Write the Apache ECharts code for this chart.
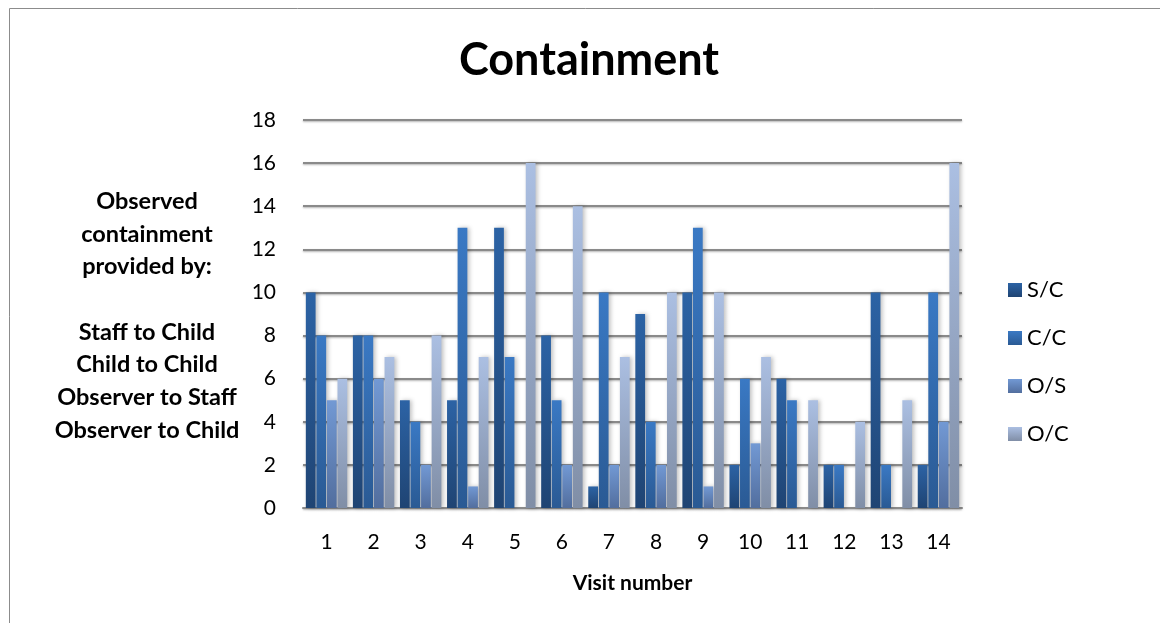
<!DOCTYPE html>
<html>
<head>
    <meta charset="utf-8">
    <title>Containment</title>
    <style>
        html, body { margin: 0; padding: 0; background: #fff; }
        #main { width: 1160px; height: 623px; }
    </style>
</head>
<body>
<div id="main"></div>
<script src="https://cdn.jsdelivr.net/npm/echarts@6/dist/echarts.min.js"></script>
<script type="text/javascript">
    var visits = ['1', '2', '3', '4', '5', '6', '7', '8', '9', '10', '11', '12', '13', '14'];
    var seriesNames = ['S/C', 'C/C', 'O/S', 'O/C'];
    var staffToChild = [10, 8, 5, 5, 13, 8, 1, 9, 10, 2, 6, 2, 10, 2];
    var childToChild = [8, 8, 4, 13, 7, 5, 10, 4, 13, 6, 5, 2, 2, 10];
    var observerToStaff = [5, 6, 2, 1, 0, 2, 2, 2, 1, 3, 0, 0, 0, 4];
    var observerToChild = [6, 7, 8, 7, 16, 14, 7, 10, 10, 7, 5, 4, 5, 16];

    var font = 'Lato';
    // top / bottom colours of each bar gradient
    var colors = [
        ['#2c63a5', '#1f4473'],
        ['#3a79c4', '#2a5a94'],
        ['#7299d4', '#526e9e'],
        ['#abbfe2', '#808ea6']
    ];

    function grad(c) {
        return new echarts.graphic.LinearGradient(0, 0, 0, 1, [
            { offset: 0, color: c[0] },
            { offset: 1, color: c[1] }
        ]);
    }

    function bar(name, data, i) {
        return {
            name: name,
            type: 'bar',
            data: data,
            barGap: '8%',
            barCategoryGap: '12%',
            itemStyle: {
                color: grad(colors[i]),
                shadowColor: 'rgba(0,0,0,0.25)',
                shadowBlur: 4,
                shadowOffsetX: 2
            }
        };
    }

    var myChart = echarts.init(document.getElementById('main'));
    var option = {
        animation: false,
        backgroundColor: '#fff',
        graphic: [{
            type: 'rect',
            shape: { x: 9.5, y: 8.5, width: 1200, height: 700 },
            style: { fill: 'none', stroke: '#8c8c8c', lineWidth: 1 }
        }],
        title: [{
            text: 'Containment',
            left: 584,
            top: 33,
            textAlign: 'center',
            textStyle: { fontFamily: font, fontWeight: 'bold', fontSize: 45, color: '#000' }
        }, {
            text: 'Observed\ncontainment\nprovided by:\n\nStaff to Child\nChild to Child\nObserver to Staff\nObserver to Child',
            left: 142,
            top: 180,
            textAlign: 'center',
            textStyle: {
                fontFamily: font, fontWeight: 'bold', fontSize: 23.5, color: '#000',
                lineHeight: 32.7, align: 'center'
            }
        }],
        legend: {
            orient: 'vertical',
            left: 1003,
            top: 274,
            itemGap: 26,
            itemWidth: 14,
            itemHeight: 14,
            icon: 'rect',
            data: seriesNames,
            textStyle: { fontFamily: font, fontSize: 22, color: '#000', padding: [0, 0, 0, 0] }
        },
        grid: {
            left: 303,
            right: 198,
            top: 120,
            bottom: 115,
            containLabel: false
        },
        xAxis: {
            type: 'category',
            data: visits,
            name: 'Visit number',
            nameLocation: 'middle',
            nameGap: 65,
            nameTextStyle: { fontFamily: font, fontWeight: 'bold', fontSize: 21, color: '#000' },
            axisTick: { show: false },
            axisLine: { lineStyle: { color: '#8a8a8a', width: 2 } },
            axisLabel: { fontFamily: font, fontSize: 21, color: '#000', margin: 24 }
        },
        yAxis: {
            type: 'value',
            min: 0,
            max: 18,
            interval: 2,
            axisLine: { show: false },
            axisTick: { show: false },
            axisLabel: { fontFamily: font, fontSize: 21, color: '#000', margin: 27 },
            splitLine: {
                lineStyle: {
                    color: '#8a8a8a', width: 2,
                    shadowColor: 'rgba(0,0,0,0.3)', shadowBlur: 2, shadowOffsetY: 1
                }
            }
        },
        series: [
            bar(seriesNames[0], staffToChild, 0),
            bar(seriesNames[1], childToChild, 1),
            bar(seriesNames[2], observerToStaff, 2),
            bar(seriesNames[3], observerToChild, 3)
        ]
    };
    myChart.setOption(option);
</script>
</body>
</html>
